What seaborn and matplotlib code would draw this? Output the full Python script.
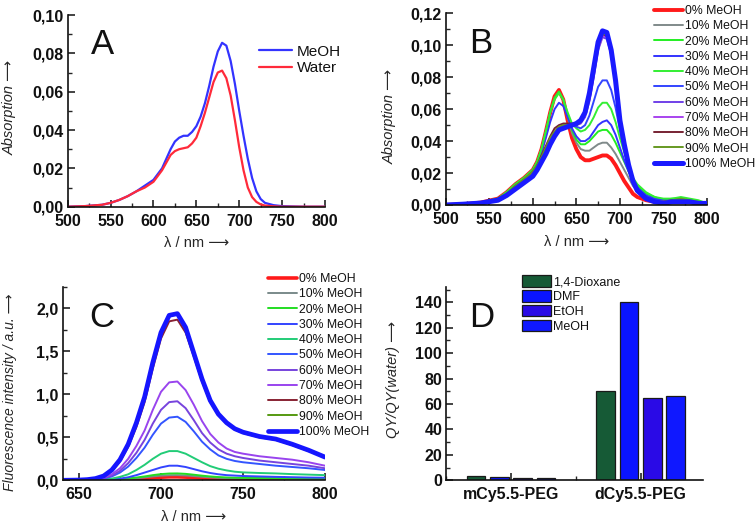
import pandas as pd
import seaborn as sns
import matplotlib.pyplot as plt
from matplotlib.ticker import MultipleLocator, FuncFormatter

# ---- panel A: absorption in MeOH / water ----
wl_a = [500, 520, 540, 550, 560, 570, 580, 590, 600, 605, 610, 615, 620, 625,
        630, 635, 640, 645, 650, 655, 660, 665, 670, 675, 680, 685, 690, 695,
        700, 705, 710, 715, 720, 725, 730, 740, 750, 775, 800]
abs_meoh = [0, 0.0003, 0.001, 0.002, 0.0035, 0.0055, 0.008, 0.011, 0.014, 0.017,
            0.020, 0.025, 0.030, 0.034, 0.036, 0.037, 0.037, 0.039, 0.042, 0.047,
            0.054, 0.063, 0.073, 0.081, 0.0855, 0.084, 0.076, 0.064, 0.050, 0.037,
            0.025, 0.015, 0.008, 0.004, 0.002, 0.0008, 0.0003, 0, 0]
abs_water = [0, 0.0003, 0.001, 0.002, 0.0035, 0.0055, 0.008, 0.010, 0.013, 0.016,
             0.019, 0.023, 0.027, 0.029, 0.030, 0.0305, 0.031, 0.033, 0.036, 0.042,
             0.049, 0.057, 0.065, 0.070, 0.071, 0.067, 0.058, 0.045, 0.031, 0.019,
             0.010, 0.005, 0.0025, 0.0012, 0.0006, 0.0002, 0, 0, 0]

# ---- panel B: absorption vs % MeOH ----
series_names = ["0% MeOH", "10% MeOH", "20% MeOH", "30% MeOH", "40% MeOH",
                "50% MeOH", "60% MeOH", "70% MeOH", "80% MeOH", "90% MeOH",
                "100% MeOH"]
wl_b = [500, 520, 540, 560, 570, 580, 590, 600, 605, 610, 615, 620, 625, 630,
        635, 640, 645, 650, 655, 660, 665, 670, 675, 680, 685, 690, 695, 700,
        705, 710, 715, 720, 730, 740, 750, 760, 770, 780, 790, 800]
b_0 = [0, 0.0005, 0.0015, 0.004, 0.008, 0.013, 0.017, 0.022, 0.027, 0.035,
       0.046, 0.058, 0.068, 0.072, 0.066, 0.053, 0.042, 0.035, 0.030, 0.028,
       0.028, 0.029, 0.030, 0.031, 0.031, 0.029, 0.025, 0.020, 0.015, 0.011,
       0.007, 0.005, 0.003, 0.002, 0.0015, 0.002, 0.002, 0.002, 0.0015, 0.001]
b_10 = [0, 0.0005, 0.0015, 0.004, 0.008, 0.013, 0.017, 0.022, 0.027, 0.035,
        0.046, 0.058, 0.067, 0.071, 0.066, 0.055, 0.045, 0.039, 0.035, 0.034,
        0.034, 0.036, 0.038, 0.039, 0.039, 0.036, 0.032, 0.027, 0.022, 0.017,
        0.012, 0.009, 0.005, 0.003, 0.002, 0.003, 0.003, 0.002, 0.002, 0.001]
b_20 = [0, 0.0005, 0.0015, 0.004, 0.008, 0.013, 0.017, 0.022, 0.027, 0.035,
        0.046, 0.058, 0.067, 0.071, 0.066, 0.056, 0.047, 0.041, 0.038, 0.038,
        0.040, 0.043, 0.046, 0.047, 0.047, 0.044, 0.039, 0.033, 0.027, 0.021,
        0.016, 0.012, 0.007, 0.005, 0.003, 0.004, 0.004, 0.003, 0.002, 0.001]
b_30 = [0, 0.0005, 0.0015, 0.004, 0.007, 0.012, 0.016, 0.021, 0.026, 0.033,
        0.042, 0.052, 0.060, 0.064, 0.062, 0.055, 0.048, 0.043, 0.040, 0.040,
        0.042, 0.046, 0.050, 0.052, 0.053, 0.050, 0.044, 0.036, 0.028, 0.021,
        0.015, 0.011, 0.006, 0.004, 0.003, 0.003, 0.003, 0.002, 0.002, 0.001]
b_40 = [0, 0.0005, 0.0015, 0.004, 0.008, 0.013, 0.017, 0.022, 0.027, 0.035,
        0.046, 0.058, 0.066, 0.070, 0.066, 0.058, 0.051, 0.048, 0.046, 0.047,
        0.050, 0.055, 0.061, 0.064, 0.064, 0.060, 0.052, 0.042, 0.033, 0.024,
        0.017, 0.013, 0.008, 0.005, 0.004, 0.004, 0.005, 0.004, 0.003, 0.001]
b_50 = [0, 0.0005, 0.0012, 0.003, 0.006, 0.010, 0.014, 0.019, 0.023, 0.028,
        0.034, 0.040, 0.045, 0.048, 0.050, 0.050, 0.050, 0.049, 0.048, 0.050,
        0.056, 0.065, 0.074, 0.078, 0.078, 0.072, 0.061, 0.047, 0.034, 0.023,
        0.015, 0.010, 0.005, 0.003, 0.002, 0.003, 0.003, 0.002, 0.002, 0.001]
b_60 = [0, 0.0005, 0.0012, 0.003, 0.006, 0.010, 0.014, 0.019, 0.023, 0.028,
        0.034, 0.040, 0.045, 0.048, 0.050, 0.050, 0.050, 0.050, 0.051, 0.055,
        0.065, 0.080, 0.097, 0.105, 0.104, 0.094, 0.076, 0.054, 0.037, 0.024,
        0.014, 0.009, 0.004, 0.002, 0.002, 0.002, 0.003, 0.002, 0.001, 0.001]
b_70 = [0, 0.0005, 0.0012, 0.003, 0.006, 0.010, 0.014, 0.019, 0.023, 0.028,
        0.034, 0.040, 0.045, 0.048, 0.049, 0.050, 0.050, 0.050, 0.052, 0.056,
        0.066, 0.081, 0.098, 0.106, 0.105, 0.095, 0.077, 0.055, 0.037, 0.024,
        0.014, 0.009, 0.004, 0.002, 0.002, 0.002, 0.003, 0.002, 0.001, 0.001]
b_80 = [0, 0.0005, 0.0015, 0.004, 0.007, 0.012, 0.016, 0.021, 0.025, 0.031,
        0.037, 0.043, 0.048, 0.050, 0.051, 0.051, 0.051, 0.050, 0.052, 0.057,
        0.067, 0.082, 0.099, 0.107, 0.106, 0.095, 0.077, 0.055, 0.038, 0.025,
        0.015, 0.009, 0.004, 0.002, 0.002, 0.003, 0.003, 0.002, 0.001, 0.001]
b_90 = [0, 0.0005, 0.0015, 0.004, 0.007, 0.012, 0.016, 0.021, 0.025, 0.030,
        0.036, 0.042, 0.046, 0.049, 0.050, 0.050, 0.050, 0.051, 0.053, 0.058,
        0.069, 0.084, 0.100, 0.107, 0.107, 0.096, 0.078, 0.055, 0.038, 0.025,
        0.015, 0.009, 0.004, 0.002, 0.002, 0.003, 0.004, 0.003, 0.002, 0.001]
b_100 = [0, 0.0005, 0.0012, 0.003, 0.006, 0.010, 0.014, 0.018, 0.022, 0.027,
         0.032, 0.038, 0.043, 0.047, 0.048, 0.049, 0.050, 0.051, 0.053, 0.058,
         0.070, 0.086, 0.102, 0.109, 0.108, 0.097, 0.078, 0.053, 0.038, 0.025,
         0.015, 0.009, 0.004, 0.002, 0.001, 0.002, 0.002, 0.002, 0.001, 0.001]

# ---- panel C: fluorescence vs % MeOH ----
wl_c = [640, 650, 655, 660, 665, 670, 675, 680, 685, 690, 695, 700, 705, 710,
        715, 720, 725, 730, 735, 740, 745, 750, 760, 770, 780, 790, 800]
c_0 = [0, 0, 0, 0, 0.001, 0.003, 0.006, 0.01, 0.016, 0.023, 0.03, 0.036, 0.04,
       0.04, 0.037, 0.032, 0.027, 0.023, 0.019, 0.017, 0.015, 0.014, 0.013,
       0.012, 0.011, 0.01, 0.01]
c_10 = [0, 0, 0, 0.001, 0.002, 0.004, 0.009, 0.015, 0.024, 0.034, 0.045, 0.054,
        0.059, 0.06, 0.056, 0.049, 0.041, 0.034, 0.029, 0.025, 0.023, 0.021,
        0.019, 0.018, 0.016, 0.015, 0.014]
c_20 = [0, 0, 0, 0.001, 0.003, 0.006, 0.012, 0.02, 0.032, 0.045, 0.06, 0.072,
        0.079, 0.08, 0.075, 0.065, 0.054, 0.045, 0.038, 0.033, 0.03, 0.028,
        0.026, 0.024, 0.022, 0.02, 0.018]
c_30 = [0, 0, 0.001, 0.002, 0.005, 0.01, 0.02, 0.035, 0.06, 0.09, 0.12, 0.15,
        0.17, 0.17, 0.155, 0.13, 0.105, 0.085, 0.07, 0.06, 0.055, 0.05, 0.045,
        0.04, 0.036, 0.032, 0.03]
c_40 = [0, 0, 0.001, 0.004, 0.009, 0.02, 0.04, 0.07, 0.12, 0.18, 0.25, 0.31,
        0.34, 0.34, 0.31, 0.26, 0.21, 0.165, 0.135, 0.115, 0.10, 0.092, 0.085,
        0.08, 0.072, 0.066, 0.06]
c_50 = [0, 0.001, 0.003, 0.008, 0.02, 0.045, 0.09, 0.16, 0.26, 0.38, 0.53, 0.66,
        0.73, 0.74, 0.68, 0.57, 0.45, 0.36, 0.29, 0.25, 0.225, 0.21, 0.19, 0.17,
        0.155, 0.14, 0.12]
c_60 = [0, 0.001, 0.004, 0.01, 0.025, 0.055, 0.11, 0.20, 0.32, 0.47, 0.66, 0.82,
        0.91, 0.92, 0.84, 0.70, 0.55, 0.44, 0.36, 0.31, 0.28, 0.26, 0.23, 0.21,
        0.19, 0.17, 0.14]
c_70 = [0, 0.002, 0.005, 0.012, 0.03, 0.07, 0.14, 0.25, 0.40, 0.58, 0.82, 1.03,
        1.14, 1.15, 1.05, 0.88, 0.69, 0.54, 0.44, 0.37, 0.33, 0.31, 0.28, 0.26,
        0.24, 0.21, 0.17]
c_80 = [0, 0.003, 0.008, 0.02, 0.05, 0.11, 0.22, 0.39, 0.62, 0.91, 1.30, 1.65,
        1.85, 1.87, 1.72, 1.44, 1.15, 0.91, 0.76, 0.66, 0.59, 0.55, 0.50, 0.47,
        0.41, 0.34, 0.27]
c_90 = [0, 0.003, 0.008, 0.02, 0.05, 0.12, 0.24, 0.42, 0.66, 0.96, 1.36, 1.71,
        1.92, 1.95, 1.78, 1.48, 1.18, 0.93, 0.77, 0.67, 0.60, 0.56, 0.51, 0.48,
        0.42, 0.35, 0.27]
c_100 = [0, 0.003, 0.008, 0.02, 0.05, 0.12, 0.24, 0.42, 0.67, 0.97, 1.37, 1.72,
         1.92, 1.94, 1.78, 1.48, 1.18, 0.93, 0.77, 0.67, 0.60, 0.56, 0.51, 0.48,
         0.42, 0.35, 0.27]

# ---- panel D: relative quantum yield ----
groups = ["mCy5.5-PEG", "dCy5.5-PEG"]
solvents = ["1,4-Dioxane", "DMF", "EtOH", "MeOH"]
qy_mono = [3.0, 2.5, 1.8, 1.7]
qy_di = [70.6, 140.5, 64.9, 66.4]

b_colors = ["#ff1a1a", "#808a8a", "#22ee22", "#3333ff", "#33ee33", "#3344ff",
            "#7040e8", "#a844ee", "#772233", "#669922", "#1a1aff"]
c_colors = ["#ff1a1a", "#7a8a8a", "#22dd22", "#3344ff", "#22cc77", "#3355ff",
            "#7744dd", "#9944ee", "#882233", "#559911", "#1515ff"]
d_colors = ["#165a36", "#0a14ff", "#2a0ae6", "#0f18ff"]

sns.set_theme(style="ticks")
plt.rcParams['font.family'] = ['Liberation Sans', 'DejaVu Sans']
plt.rcParams['font.weight'] = 'bold'
plt.rcParams['axes.labelweight'] = 'normal'
plt.rcParams['axes.linewidth'] = 1.2
plt.rcParams['xtick.direction'] = 'in'
plt.rcParams['ytick.direction'] = 'in'
plt.rcParams['text.color'] = '#111111'


def comma(decimals):
    return FuncFormatter(lambda v, p: f"{v:.{decimals}f}".replace('.', ','))


def style_axis(ax):
    sns.despine(ax=ax)
    ax.tick_params(which='major', length=5, width=1.1, labelsize=11.5,
                   colors='#111111', pad=3)
    ax.tick_params(axis='x', which='major', pad=5)
    ax.tick_params(which='minor', length=3, width=1.0)
    ax.spines['left'].set_color('#111111')
    ax.spines['bottom'].set_color('#111111')


def main():
    fig = plt.figure(figsize=(7.56, 5.25), dpi=100)
    W, H = 756, 525

    def axes_px(x0, x1, ytop, ybot):
        return fig.add_axes([x0 / W, 1 - ybot / H, (x1 - x0) / W, (ybot - ytop) / H])

    lab_kw = dict(fontsize=10.5, fontweight='normal')
    lam = "λ / nm ⟶"
    letter_kw = dict(fontsize=25, fontweight='normal', va='top')

    # ---- A ----
    ax = axes_px(67.7, 325, 15, 206.7)
    sns.lineplot(x=wl_a, y=abs_meoh, ax=ax, color="#3333ff", lw=1.6, label="MeOH")
    sns.lineplot(x=wl_a, y=abs_water, ax=ax, color="#ff2a3a", lw=1.6, label="Water")
    ax.set_xlim(500, 800)
    ax.set_ylim(0, 0.10)
    ax.xaxis.set_major_locator(MultipleLocator(50))
    ax.xaxis.set_minor_locator(MultipleLocator(25))
    ax.yaxis.set_major_locator(MultipleLocator(0.02))
    ax.yaxis.set_minor_locator(MultipleLocator(0.01))
    ax.yaxis.set_major_formatter(comma(2))
    style_axis(ax)
    ax.set_xlabel(lam, **lab_kw)
    ax.set_ylabel("Absorption ⟶", style='italic', **lab_kw)
    ax.xaxis.set_label_coords(0.5, -0.155)
    ax.yaxis.set_label_coords(-0.197, 0.52)
    ax.legend(loc='upper left', bbox_to_anchor=(245 / W, 1 - 31 / H),
              bbox_transform=fig.transFigure, frameon=False,
              prop=dict(size=11, weight='normal'), handlelength=2.2,
              handletextpad=0.3, labelspacing=0.15)
    ax.text(0.09, 0.93, "A", transform=ax.transAxes, **letter_kw)

    # ---- B ----
    ax = axes_px(445.7, 707, 13.3, 205)
    b_series = [b_0, b_10, b_20, b_30, b_40, b_50, b_60, b_70, b_80, b_90, b_100]
    for name, vals, col in zip(series_names, b_series, b_colors):
        lw = 3.6 if name == "100% MeOH" else (2.8 if name == "0% MeOH" else 1.4)
        sns.lineplot(x=wl_b, y=vals, ax=ax, color=col, lw=lw, label=name)
    ax.set_xlim(500, 800)
    ax.set_ylim(0, 0.12)
    ax.xaxis.set_major_locator(MultipleLocator(50))
    ax.xaxis.set_minor_locator(MultipleLocator(25))
    ax.yaxis.set_major_locator(MultipleLocator(0.02))
    ax.yaxis.set_minor_locator(MultipleLocator(0.01))
    ax.yaxis.set_major_formatter(comma(2))
    style_axis(ax)
    ax.set_xlabel(lam, **lab_kw)
    ax.set_ylabel("Absorption ⟶", style='italic', **lab_kw)
    ax.xaxis.set_label_coords(0.5, -0.155)
    ax.yaxis.set_label_coords(-0.186, 0.46)
    ax.legend(loc='upper left', bbox_to_anchor=(643 / W, 1 + 6 / H),
              bbox_transform=fig.transFigure, frameon=False,
              prop=dict(size=8.8, weight='normal'), handlelength=2.4,
              handletextpad=0.12, labelspacing=0.27)
    ax.text(0.09, 0.93, "B", transform=ax.transAxes, **letter_kw)

    # ---- C ----
    ax = axes_px(62.6, 325, 287, 480.3)
    c_series = [c_0, c_10, c_20, c_30, c_40, c_50, c_60, c_70, c_80, c_90, c_100]
    for name, vals, col in zip(series_names, c_series, c_colors):
        lw = 3.4 if name == "100% MeOH" else (2.6 if name == "0% MeOH" else 1.4)
        sns.lineplot(x=wl_c, y=vals, ax=ax, color=col, lw=lw, label=name)
    ax.set_xlim(640, 800)
    ax.set_ylim(0, 2.25)
    ax.xaxis.set_major_locator(MultipleLocator(50))
    ax.xaxis.set_minor_locator(MultipleLocator(25))
    ax.yaxis.set_major_locator(MultipleLocator(0.5))
    ax.yaxis.set_minor_locator(MultipleLocator(0.25))
    ax.yaxis.set_major_formatter(comma(1))
    style_axis(ax)
    ax.set_xlabel(lam, **lab_kw)
    ax.set_ylabel("Fluorescence intensity / a.u. ⟶", style='italic',
                  fontsize=10, fontweight='normal')
    ax.xaxis.set_label_coords(0.5, -0.155)
    ax.yaxis.set_label_coords(-0.174, 0.455)
    ax.legend(loc='upper left', bbox_to_anchor=(257 / W, 1 - 262 / H),
              bbox_transform=fig.transFigure, frameon=False,
              prop=dict(size=8.8, weight='normal'), handlelength=2.4,
              handletextpad=0.12, labelspacing=0.27)
    ax.text(0.1, 0.93, "C", transform=ax.transAxes, **letter_kw)

    # ---- D ----
    ax = axes_px(446.3, 703, 287, 480.3)
    df = pd.DataFrame({
        "group": [g for g in groups for _ in solvents],
        "solvent": solvents * len(groups),
        "qy": qy_mono + qy_di,
    })
    sns.barplot(data=df, x="group", y="qy", hue="solvent", hue_order=solvents,
                palette=d_colors, width=0.72, gap=0.2, saturation=1,
                edgecolor="#1a1a1a", linewidth=0.9, ax=ax)
    ax.set_xlim(-0.5, 1.48)
    ax.set_ylim(0, 152)
    ax.yaxis.set_major_locator(MultipleLocator(20))
    ax.yaxis.set_minor_locator(MultipleLocator(10))
    ax.xaxis.set_minor_locator(MultipleLocator(0.5))
    style_axis(ax)
    ax.set_xlabel("")
    ax.set_ylabel("QY/QY(water) ⟶", style='italic', **lab_kw)
    ax.yaxis.set_label_coords(-0.18, 0.52)
    ax.legend(loc='upper left', bbox_to_anchor=(511 / W, 1 - 264 / H),
              bbox_transform=fig.transFigure, frameon=False,
              prop=dict(size=9, weight='normal'), handlelength=2.3,
              handleheight=1.05, handletextpad=0.2, labelspacing=0.14)
    ax.text(0.09, 0.93, "D", transform=ax.transAxes, **letter_kw)

    fig.savefig("out.png", dpi=100)


if __name__ == "__main__":
    main()
